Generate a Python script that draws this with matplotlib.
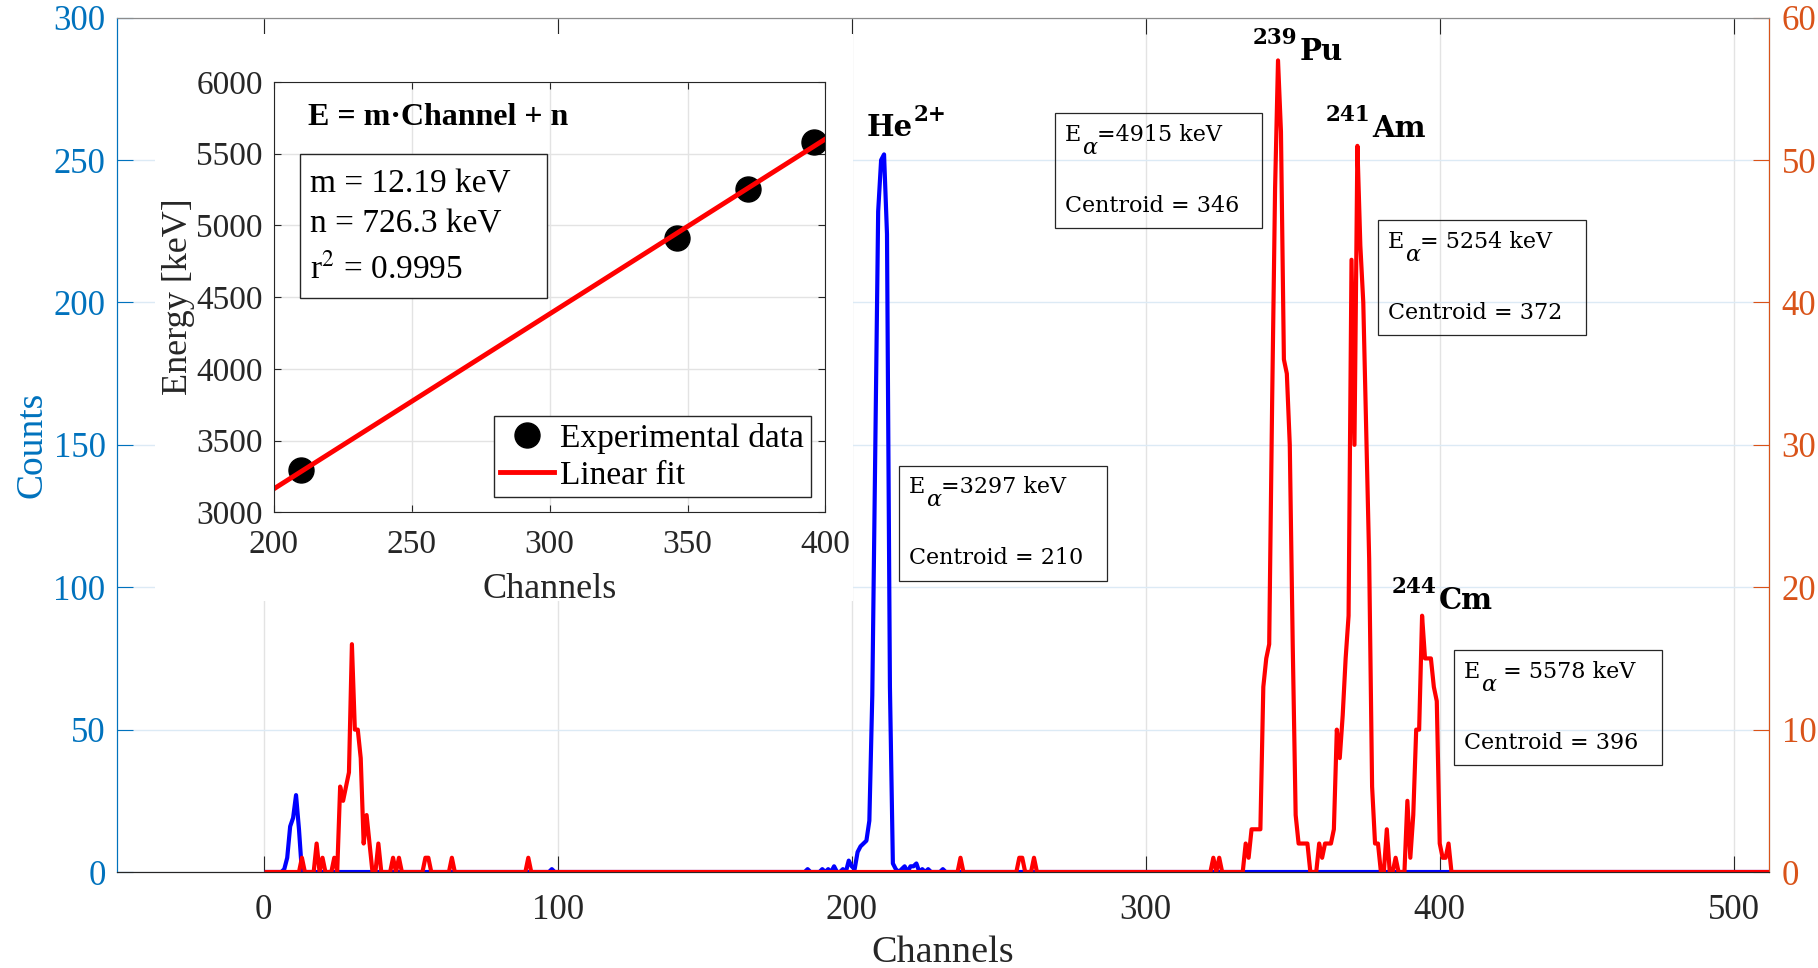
import numpy as np
import matplotlib
matplotlib.use("Agg")
import matplotlib.pyplot as plt
from matplotlib.patches import Rectangle

plt.rcParams['font.family'] = 'Liberation Serif'

# Canais do MCA
canais = np.arange(1, 513)

# Espectro do feixe de He2+ (eixo da esquerda)
he_canais = [7, 8, 9, 10, 11, 12, 98, 185, 190, 192, 194, 197, 199, 200, 201,
             202, 203, 204, 205, 206, 207, 208, 209, 210, 211, 212, 213, 214,
             215, 217, 218, 220, 221, 222, 224, 226, 231]
he_contagens = [1, 5, 16, 19, 27, 15, 1, 1, 1, 1, 2, 1, 4, 2, 1,
                7, 9, 10, 11, 18, 62, 148, 232, 250, 252, 224, 65, 3,
                1, 1, 2, 2, 2, 3, 1, 1, 1]

# Espectro da fonte alfa tripla (eixo da direita)
fonte_canais = [13, 18, 20, 24, 26, 27, 28, 29, 30, 31, 32, 33, 34, 35, 36, 39, 44, 46, 55, 56, 64, 90,
                237, 257, 258, 262, 323, 325,
                334, 335, 336, 337, 338, 339, 340, 341, 342, 343, 344, 345, 346, 347, 348, 349, 350,
                351, 352, 353, 354, 355,
                359, 360, 361, 362, 363, 364, 365, 366, 367, 368, 369, 370, 371, 372, 373, 374, 375,
                376, 377, 378, 379,
                382, 385, 389, 390, 391, 392, 393, 394, 395, 396, 397, 398, 399, 400, 401, 402, 403]
fonte_contagens = [1, 2, 1, 1, 6, 5, 6, 7, 16, 10, 10, 8, 2, 4, 2, 2, 1, 1, 1, 1, 1, 1,
                   1, 1, 1, 1, 1, 1,
                   2, 1, 3, 3, 3, 3, 13, 15, 16, 33, 48, 57, 52, 36, 35, 30, 16,
                   4, 2, 2, 2, 2,
                   2, 1, 2, 2, 2, 3, 10, 8, 11, 15, 18, 43, 30, 51, 44, 40, 31,
                   22, 6, 2, 2,
                   3, 1, 5, 1, 4, 10, 10, 18, 15, 15, 15, 13, 12, 2, 1, 1, 2]

# Calibração em energia
cal_canais = [210, 346, 372, 396]
cal_energias = [3297, 4915, 5254, 5578]
m_fit = 12.19
n_fit = 726.3
r2_fit = 0.9995

# Picos: (massa, elemento); He leva a carga como expoente
picos = [('2+', 'He'), ('239', 'Pu'), ('241', 'Am'), ('244', 'Cm')]

he = np.zeros(len(canais))
he[np.array(he_canais) - 1] = he_contagens
fonte = np.zeros(len(canais))
fonte[np.array(fonte_canais) - 1] = fonte_contagens

AZUL = '#0072BD'
LARANJA = '#D95319'
CINZA = '#262626'

fig = plt.figure(figsize=(18.18, 9.68), dpi=100)
ax = fig.add_axes([0.06419, 0.09917, 0.90886, 0.88254])
ax.plot(canais, he, color='blue', lw=3)
ax.set_xlim(-50, 512)
ax.set_ylim(0, 300)
ax.set_xticks(range(0, 501, 100))
ax.set_yticks(range(0, 301, 50))
ax.xaxis.grid(True, color='#e3e3e3', lw=1)
ax.yaxis.grid(True, color='#dceaf5', lw=1)
ax.tick_params(axis='x', direction='in', length=11.5, top=True, color=CINZA,
               labelcolor=CINZA, labelsize=25, pad=16)
ax.tick_params(axis='y', direction='in', length=11.5, color=AZUL, labelcolor=AZUL,
               labelsize=25, pad=8)
ax.spines['left'].set_color(AZUL)
ax.spines['top'].set_color('#8c8c8c')
ax.spines['bottom'].set_color(CINZA)
ax.set_xlabel('Channels', fontsize=27.5, color=CINZA, labelpad=6)
ax.set_ylabel('Counts', fontsize=27, color=AZUL, labelpad=3)

# fundo branco atrás do gráfico de calibração
ax.add_patch(Rectangle((155 / 1818, 1 - 601 / 968), (853 - 155) / 1818, (601 - 34) / 968,
                       transform=fig.transFigure, facecolor='white', edgecolor='none',
                       zorder=1.7))

ax2 = ax.twinx()
ax2.plot(canais, fonte, color='red', lw=3)
ax2.set_ylim(0, 60)
ax2.set_yticks(range(0, 61, 10))
ax2.tick_params(axis='y', direction='in', length=11.5, color=LARANJA, labelcolor=LARANJA,
                labelsize=25, pad=9)
ax2.spines['right'].set_color(LARANJA)
ax2.spines['left'].set_color(AZUL)
ax2.spines['top'].set_color('#8c8c8c')
ax2.spines['bottom'].set_color(CINZA)

# Rótulos dos picos (expoente desenhado à parte)
negrito = dict(family='DejaVu Serif', fontweight='bold', color='black', va='baseline', ha='left')
pos_picos = [(205.2, 51.7), (336.4, 57.0), (361.3, 51.6), (383.8, 18.45)]
for (sup, elem), (x, y) in zip(picos, pos_picos):
    if elem == 'He':
        t = ax2.text(x, y, elem, fontsize=21, **negrito)
        ax2.annotate(sup, xy=(1, y), xycoords=(t, 'data'), xytext=(1, 15),
                     textcoords='offset pixels', fontsize=15.5, **negrito)
    else:
        t = ax2.annotate(sup, xy=(x, y), xytext=(0, 16.5), textcoords='offset pixels',
                         fontsize=15.5, **negrito)
        ax2.annotate(elem, xy=(1, y), xycoords=(t, 'data'), xytext=(2, 0),
                     textcoords='offset pixels', fontsize=21, **negrito)

# Caixas com energia e centroide
pos_caixas = [(216.0, 28.54), (269.0, 53.3), (379.0, 45.77), (404.8, 15.59)]
sep = ['=', '=', '= ', ' = ']
normal = dict(fontsize=16, family='DejaVu Serif', color='black', va='baseline', ha='left',
              textcoords='offset pixels')
for (x0, y0), c, e, s in zip(pos_caixas, cal_canais, cal_energias, sep):
    ax2.add_patch(Rectangle((x0, y0 - 8.07), 70.7, 8.07, fill=False, edgecolor=CINZA,
                            lw=0.9, clip_on=False))
    t_e = ax2.annotate('E', (x0, y0), xytext=(10, -27.5), **normal)
    t_a = ax2.annotate('α', xy=(1, y0), xycoords=(t_e, 'data'), xytext=(1, -40.5),
                       fontstyle='italic', **normal)
    ax2.annotate(s + f'{e} keV', xy=(1, y0), xycoords=(t_a, 'data'), xytext=(0, -27.5),
                 **normal)
    ax2.annotate(f'Centroid = {c}', (x0, y0), xytext=(10, -98.8), **normal)

# Gráfico de calibração (inset)
axi = fig.add_axes([0.1506, 0.4706, 0.30347, 0.44483])
axi.plot(cal_canais, cal_energias, 'o', color='black', ms=18, label='Experimental data')
xs = np.array([200, 400])
axi.plot(xs, m_fit * xs + n_fit, color='red', lw=3.5, label='Linear fit')
axi.set_xlim(200, 400)
axi.set_ylim(3000, 6000)
axi.set_xticks(range(200, 401, 50))
axi.set_yticks(range(3000, 6001, 500))
axi.grid(True, color='#e3e3e3', lw=1)
axi.set_axisbelow(True)
axi.tick_params(direction='in', length=5, top=True, right=True, color=CINZA,
                labelcolor=CINZA, labelsize=24)
axi.tick_params(axis='x', pad=12.5)
axi.tick_params(axis='y', pad=8)
for lado in axi.spines.values():
    lado.set_color(CINZA)
axi.set_xlabel('Channels', fontsize=26, color=CINZA, labelpad=9)
axi.set_ylabel('Energy [keV]', fontsize=26, color=CINZA, labelpad=1)

axi.text(0.062, 0.9176, 'E = m·Channel + n', transform=axi.transAxes, fontsize=23,
         fontweight='bold', va='center', ha='left')
axi.add_patch(Rectangle((0.047, 0.4988), 0.4482, 0.3333, transform=axi.transAxes,
                        facecolor='white', edgecolor=CINZA, lw=1))
linhas = [f'm = {m_fit} keV', f'n = {n_fit} keV', f'r$^{{2}}$ = {r2_fit}']
for texto, yb in zip(linhas, [193, 233, 278]):
    axi.text(0.0656, (512.5 - yb) / 430.6, texto, transform=axi.transAxes, fontsize=24,
             math_fontfamily='stix', va='baseline', ha='left', color='black')

leg = axi.legend(loc='lower right', bbox_to_anchor=(1 - 14.5 / 551.7, 15.1 / 430.6),
                 borderaxespad=0, fontsize=24, fancybox=False, framealpha=1,
                 edgecolor=CINZA, borderpad=0.2, labelspacing=0.2, handletextpad=0.2,
                 handlelength=1.6)
leg.get_frame().set_linewidth(1)

fig.savefig('out.png', dpi=100, facecolor='white')
